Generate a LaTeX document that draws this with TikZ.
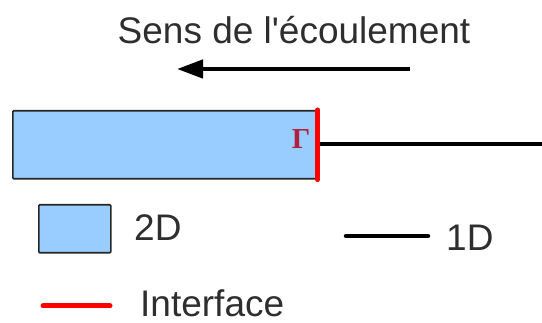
\documentclass[tikz,border=0pt]{standalone}
\usepackage{fontspec}
\setmainfont{Liberation Sans}
\newfontfamily\serifbold{Liberation Serif}
\usetikzlibrary{arrows.meta}
\definecolor{boxblue}{HTML}{99CCFF}
\definecolor{txtgray}{HTML}{2E2E2E}
\definecolor{gammared}{HTML}{B0203F}
\tikzset{
  x=1pt, y=-1pt,
  lbl/.style={text=txtgray, font=\fontsize{37}{40}\selectfont, inner sep=0pt, anchor=west},
  box2d/.style={draw=black!85, fill=boxblue, line width=1.6pt, rounded corners=1pt},
  line1d/.style={line width=4.5pt, black, line cap=round},
  iface/.style={line width=5pt, red, line cap=round},
}
\begin{document}
\begin{tikzpicture}
\useasboundingbox (0,0) rectangle (542,323);
% title and arrow
\node[lbl, anchor=center] (title) at (294,30) {Sens de l\textquotesingle écoulement};
\coordinate (arrS) at (410,69);
\coordinate (arrE) at (177,69);
\draw[line width=4.5pt, -{Triangle[length=26pt,width=18pt]}] (arrS) -- (arrE);
% main 2D domain
\node[box2d, minimum width=304pt, minimum height=68pt, inner sep=0pt, anchor=north west] (dom) at (12,110) {};
% 1D line
\coordinate (far) at (542,144);
\draw[line1d] (dom.east |- far) -- (far);
% interface
\draw[iface] (dom.north east) -- (dom.south east);
\node[text=gammared, font=\serifbold\bfseries\fontsize{29}{29}\selectfont, inner sep=0pt] (gamma) at (301,139) {Γ};
% legend
\node[box2d, minimum width=72pt, minimum height=48pt, inner sep=0pt, anchor=north west] (leg2d) at (38,204) {};
\node[lbl] (t2d) at (134,228) {2D};
\coordinate (l1a) at (346,236);
\coordinate (l1b) at (428,236);
\draw[line1d] (l1a) -- (l1b);
\node[lbl] (t1d) at (446,238) {1D};
\coordinate (ifa) at (43,306);
\coordinate (ifb) at (110,306);
\draw[iface] (ifa) -- (ifb);
\node[lbl] (tif) at (140,303) {Interface};
\end{tikzpicture}
\end{document}
